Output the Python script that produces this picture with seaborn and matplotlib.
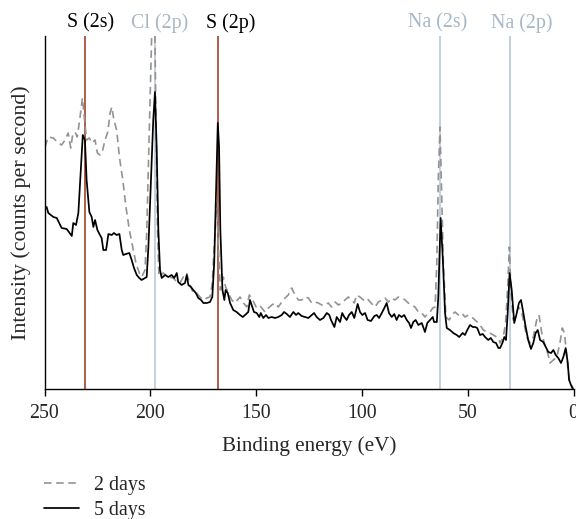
import matplotlib
matplotlib.use("Agg")
import matplotlib.pyplot as plt
import seaborn as sns
import pandas as pd

# ---- data (binding energy in eV, intensity in arbitrary counts) ----
five_ev = [249.8, 249.0, 248.2, 245.8, 244.2, 241.9, 239.5, 237.1, 236.4, 235.1,
           234.0, 232.9, 231.9, 230.9, 230.1, 228.8, 227.7, 226.9, 226.1, 225.0,
           223.8, 223.0, 222.2, 220.9, 219.8, 218.2, 217.2, 215.9, 214.6, 213.5,
           212.8, 211.5, 209.9, 208.8, 207.7, 206.4, 205.2, 204.1, 202.5, 201.7,
           200.9, 199.7, 198.6, 197.8, 197.0, 196.2, 195.4, 194.6, 193.0, 191.5,
           189.9, 188.7, 187.5, 186.8, 185.2, 183.6, 182.8, 182.0, 180.8, 179.7,
           178.5, 177.3, 176.0, 174.9, 173.3, 171.8, 170.7, 169.8, 169.0, 168.1,
           167.5, 166.9, 165.9, 165.0, 164.4, 163.4, 162.3, 160.8, 159.2, 157.6,
           156.3, 155.2, 153.7, 152.9, 152.1, 151.0, 149.7, 148.5, 147.8, 146.6,
           145.3, 144.2, 142.6, 141.1, 139.5, 137.9, 136.8, 135.5, 134.0, 132.4,
           131.1, 130.1, 128.5, 126.9, 125.3, 123.7, 122.6, 121.4, 119.8, 118.2,
           116.6, 115.4, 114.6, 113.0, 111.9, 110.3, 109.3, 108.3, 107.2, 106.1,
           104.8, 103.6, 102.0, 100.9, 99.8, 98.5, 97.3, 95.7, 94.1, 93.0,
           91.9, 90.6, 89.4, 88.3, 87.2, 85.9, 84.7, 83.6, 82.5, 81.2,
           80.0, 78.8, 77.7, 76.8, 75.7, 74.6, 73.3, 71.7, 70.2, 69.1,
           67.8, 66.5, 65.9, 64.6, 63.9, 62.8, 61.8, 60.7, 59.9, 58.4,
           56.8, 55.2, 54.0, 52.4, 51.3, 50.2, 48.9, 47.6, 46.5, 45.5,
           44.2, 42.9, 41.8, 40.3, 39.1, 37.9, 36.6, 35.5, 34.7, 33.6,
           32.7, 31.9, 31.1, 30.2, 29.2, 28.4, 28.0, 26.8, 25.8, 24.8,
           23.7, 22.6, 21.4, 20.1, 19.0, 17.9, 16.9, 15.8, 14.3, 13.1,
           11.9, 10.6, 9.5, 8.4, 7.2, 5.9, 4.8, 3.7, 2.7, 2.1,
           0.8, 0.0]
five_int = [184, 184, 178, 174, 173, 163, 162, 155, 168, 166,
            178, 218, 256, 251, 211, 179, 174, 164, 171, 161,
            156, 153, 141, 141, 157, 156, 158, 156, 157, 141,
            136, 137, 138, 131, 123, 116, 113, 111, 113, 114,
            144, 211, 271, 299, 244, 161, 121, 113, 116, 114,
            116, 113, 118, 109, 106, 108, 116, 106, 104, 101,
            98, 93, 91, 88, 88, 89, 94, 128, 194, 268,
            244, 161, 101, 91, 101, 98, 88, 81, 79, 76,
            74, 76, 79, 91, 86, 79, 78, 74, 78, 73,
            76, 73, 74, 73, 74, 76, 79, 77, 74, 79,
            76, 78, 75, 74, 73, 76, 78, 74, 71, 73,
            78, 76, 71, 64, 74, 69, 78, 74, 71, 76,
            79, 73, 87, 79, 76, 78, 71, 70, 75, 76,
            73, 78, 83, 88, 78, 74, 77, 71, 76, 74,
            76, 71, 68, 63, 69, 71, 66, 68, 59, 68,
            71, 74, 69, 69, 94, 173, 134, 78, 63, 61,
            58, 56, 54, 58, 56, 61, 66, 64, 64, 63,
            56, 57, 54, 51, 53, 49, 48, 43, 43, 48,
            54, 51, 78, 118, 101, 78, 68, 78, 88, 91,
            78, 64, 51, 42, 48, 58, 61, 51, 49, 44,
            39, 38, 41, 36, 33, 28, 34, 43, 28, 11,
            4, 1]

two_ev = [249.8, 248.2, 245.8, 243.5, 241.9, 240.3, 238.8, 237.6, 236.7, 235.6,
          234.5, 233.2, 232.1, 231.2, 230.1, 228.8, 227.7, 226.1, 225.0, 223.8,
          222.7, 221.4, 220.1, 219.0, 218.2, 217.2, 215.9, 214.6, 213.0, 211.5,
          209.9, 208.3, 206.8, 205.2, 204.1, 202.5, 201.7, 200.9, 200.1, 199.4,
          198.7, 198.0, 197.3, 196.6, 195.9, 193.9, 191.5, 189.1, 187.5, 186.0,
          184.4, 182.8, 181.2, 179.7, 178.1, 176.5, 174.9, 173.3, 171.8, 170.7,
          169.8, 168.6, 167.9, 166.9, 165.5, 164.4, 163.1, 161.5, 160.0, 157.6,
          156.0, 154.4, 153.2, 151.6, 150.0, 148.5, 147.3, 145.8, 144.2, 142.6,
          141.1, 139.5, 137.9, 136.3, 134.8, 133.2, 131.6, 130.0, 128.4, 126.9,
          125.3, 123.7, 122.2, 120.6, 119.0, 117.4, 115.9, 114.3, 112.7, 111.1,
          109.5, 108.0, 106.4, 104.8, 103.6, 102.5, 100.9, 99.3, 97.7, 95.7,
          93.8, 92.2, 90.6, 89.1, 87.5, 85.9, 84.4, 82.8, 81.2, 79.6,
          78.1, 76.5, 74.9, 73.3, 71.7, 70.2, 68.6, 67.8, 66.5, 65.4,
          64.6, 63.9, 63.1, 62.3, 61.5, 60.3, 58.7, 57.6, 56.0, 54.4,
          52.8, 51.3, 49.7, 48.1, 46.5, 45.5, 44.2, 42.6, 41.0, 39.5,
          37.9, 36.3, 35.5, 34.7, 33.2, 32.1, 31.1, 30.3, 29.6, 28.5,
          27.4, 26.1, 24.8, 23.7, 22.1, 20.6, 19.0, 17.4, 16.3, 15.0,
          13.8, 12.2, 11.1, 9.5, 7.9, 6.4, 5.3, 4.3, 3.6, 2.7,
          1.7, 0.1]
two_int = [244, 254, 253, 248, 246, 251, 258, 243, 256, 259,
           254, 274, 293, 274, 251, 253, 248, 251, 238, 236,
           239, 251, 259, 278, 284, 271, 261, 234, 211, 184,
           161, 144, 128, 118, 114, 121, 158, 224, 291, 351,
           411, 381, 271, 161, 114, 118, 114, 113, 109, 108,
           114, 118, 106, 98, 98, 94, 91, 93, 94, 108,
           144, 188, 148, 101, 114, 104, 98, 91, 88, 94,
           88, 84, 96, 91, 84, 86, 83, 79, 83, 86,
           88, 84, 89, 93, 96, 103, 96, 91, 91, 94,
           93, 88, 89, 88, 86, 86, 88, 84, 89, 86,
           88, 91, 94, 91, 88, 96, 94, 91, 93, 88,
           84, 89, 91, 93, 89, 93, 91, 94, 93, 91,
           88, 86, 84, 79, 78, 74, 78, 79, 83, 84,
           128, 211, 264, 194, 128, 74, 71, 76, 79, 76,
           78, 74, 76, 74, 71, 69, 66, 61, 59, 58,
           56, 54, 53, 48, 54, 68, 104, 144, 101, 71,
           74, 84, 81, 71, 54, 48, 54, 71, 76, 58,
           48, 38, 28, 31, 34, 48, 63, 58, 44, 24,
           8, 3]

series_names = ["2 days", "5 days"]
marker_ev = [231, 198, 168, 63, 30]
marker_labels = ["S (2s)", "Cl (2p)", "S (2p)", "Na (2s)", "Na (2p)"]
label_ev = [228.3, 195.6, 161.9, 64.3, 24.5]
x_ticks = [250, 200, 150, 100, 50, 0]

# ---- style ----
sns.set_theme(style="white")
plt.rcParams["font.family"] = ["Liberation Serif", "DejaVu Serif"]
plt.rcParams["axes.unicode_minus"] = False

S_COL = "#a9503a"
LIGHT_COL = "#bfcddb"
LIGHT_TXT = "#a6b7c8"
marker_line_cols = [S_COL, LIGHT_COL, S_COL, LIGHT_COL, LIGHT_COL]
marker_txt_cols = ["black", LIGHT_TXT, "black", LIGHT_TXT, LIGHT_TXT]

FS = 14.3
W, H = 576, 519
fig = plt.figure(figsize=(W / 100, H / 100), dpi=100)
x0, x1, y0, y1 = 44.5, 573.5, 36, 389
ax = fig.add_axes([x0 / W, 1 - y1 / H, (x1 - x0) / W, (y1 - y0) / H])

for ev, c in zip(marker_ev, marker_line_cols):
    ax.axvline(ev, color=c, lw=1.3, zorder=1)

df2 = pd.DataFrame({"ev": two_ev, "I": two_int})
df5 = pd.DataFrame({"ev": five_ev, "I": five_int})
sns.lineplot(data=df2, x="ev", y="I", ax=ax, color="#939393", lw=1.2,
             sort=False, estimator=None, label=series_names[0], zorder=2)
sns.lineplot(data=df5, x="ev", y="I", ax=ax, color="black", lw=1.25,
             sort=False, estimator=None, label=series_names[1], zorder=3)
lines = ax.get_lines()
dash_line = [l for l in lines if l.get_label() == series_names[0]][0]
dash_line.set_dashes([4.5, 2.8])

ax.set_xlim(250, 0)
ax.set_ylim(2, 355)
ax.set_xticks(x_ticks)
ax.set_xticklabels([str(t) for t in x_ticks])
ax.set_yticks([])
ax.tick_params(axis="x", direction="out", length=5, width=1, color="black",
               labelsize=FS, pad=6, bottom=True)
for s in ["top", "right"]:
    ax.spines[s].set_visible(False)
for s in ["left", "bottom"]:
    ax.spines[s].set_color("black")
    ax.spines[s].set_linewidth(1.0)

ax.set_xlabel("Binding energy (eV)", fontsize=15.2, labelpad=9)
ax.set_ylabel("Intensity (counts per second)", fontsize=15.8, labelpad=10)

for ev, lab, c in zip(label_ev, marker_labels, marker_txt_cols):
    ax.text(ev, 1.037, lab, transform=ax.get_xaxis_transform(), ha="center",
            va="center", fontsize=FS, color=c, clip_on=False)

ax.get_legend().remove()
h, l = ax.get_legend_handles_labels()
fig.legend(h, l, loc="upper left", bbox_to_anchor=(44 / W, 1 - 476 / H),
           frameon=False, fontsize=FS, handlelength=1.75, handletextpad=0.75,
           labelspacing=0.3, borderpad=0, borderaxespad=0)

fig.savefig("out.png", dpi=100)
